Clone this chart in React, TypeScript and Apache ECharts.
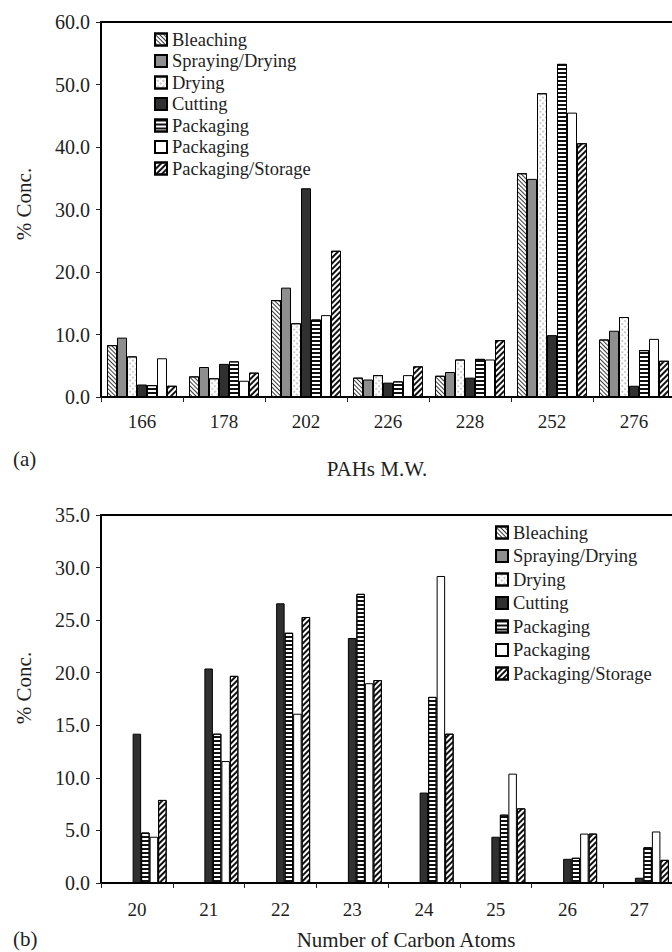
import React, { useEffect, useRef } from "react";
import * as echarts from "echarts";

const pahCategories = ["166", "178", "202", "226", "228", "252", "276"];
const carbonCategories = ["20", "21", "22", "23", "24", "25", "26", "27"];

const seriesKeys = ["bleaching", "spraying", "drying", "cutting", "packagingA", "packagingB", "storage"];
const seriesLabels = ["Bleaching", "Spraying/Drying", "Drying", "Cutting", "Packaging", "Packaging", "Packaging/Storage"];

// Panel (a): % concentration by PAH molecular weight
const pahBleaching = [8.3, 3.3, 15.5, 3.1, 3.4, 35.8, 9.2];
const pahSpraying = [9.5, 4.8, 17.5, 2.8, 4.0, 34.9, 10.6];
const pahDrying = [6.5, 3.0, 11.8, 3.5, 6.0, 48.6, 12.8];
const pahCutting = [2.0, 5.3, 33.4, 2.3, 3.1, 9.9, 1.8];
const pahPackagingA = [1.9, 5.7, 12.4, 2.5, 6.1, 53.3, 7.5];
const pahPackagingB = [6.2, 2.6, 13.1, 3.5, 6.0, 45.5, 9.3];
const pahStorage = [1.8, 3.9, 23.4, 4.9, 9.1, 40.6, 5.8];

// Panel (b): % concentration by number of carbon atoms
const carbonBleaching = [null, null, null, null, null, null, null, null];
const carbonSpraying = [null, null, null, null, null, null, null, null];
const carbonDrying = [null, null, null, null, null, null, null, null];
const carbonCutting = [14.2, 20.4, 26.6, 23.3, 8.6, 4.4, 2.3, 0.5];
const carbonPackagingA = [4.8, 14.2, 23.8, 27.5, 17.7, 6.5, 2.4, 3.4];
const carbonPackagingB = [4.4, 11.6, 16.1, 19.0, 29.2, 10.4, 4.7, 4.9];
const carbonStorage = [7.9, 19.7, 25.3, 19.3, 14.2, 7.1, 4.7, 2.2];

const pahTicks = { min: 0, max: 60, interval: 10 };
const carbonTicks = { min: 0, max: 35, interval: 5 };

const FONT = '"Liberation Serif", "Times New Roman", serif';
const TXT = "#1e1e1e";

const styles: any[] = [
  {
    color: "#ffffff",
    decal: { symbol: "rect", symbolSize: 1, color: "#3a3a3a", backgroundColor: "#ffffff", dashArrayX: [1, 0], dashArrayY: [1, 1.4], rotation: Math.PI / 4 },
  },
  { color: "#8e8e8e" },
  {
    color: "#ffffff",
    decal: { symbol: "circle", symbolSize: 0.7, color: "#7a7a7a", backgroundColor: "#ffffff", dashArrayX: [1.5, 1.5], dashArrayY: [1.5, 1.5], rotation: Math.PI / 4 },
  },
  { color: "#303030" },
  {
    color: "#ffffff",
    decal: { symbol: "rect", symbolSize: 1, color: "#111111", backgroundColor: "#ffffff", dashArrayX: [1, 0], dashArrayY: [1.4, 1.6], rotation: 0 },
  },
  { color: "#ffffff" },
  {
    color: "#ffffff",
    decal: { symbol: "rect", symbolSize: 1, color: "#111111", backgroundColor: "#ffffff", dashArrayX: [1, 0], dashArrayY: [2, 2], rotation: -Math.PI / 4 },
  },
];

export default function App() {
  const ref = useRef<HTMLDivElement>(null);

  useEffect(() => {
    if (!ref.current) return;
    const chart = echarts.init(ref.current, undefined, { renderer: "svg" });

    const pahData = [pahBleaching, pahSpraying, pahDrying, pahCutting, pahPackagingA, pahPackagingB, pahStorage];
    const carbonData = [carbonBleaching, carbonSpraying, carbonDrying, carbonCutting, carbonPackagingA, carbonPackagingB, carbonStorage];

    const mkSeries = (data: any[][], gridIdx: number, barWidth: number) =>
      seriesKeys.map((key, i) => ({
        type: "bar",
        name: key,
        xAxisIndex: gridIdx,
        yAxisIndex: gridIdx,
        data: data[i],
        barWidth,
        barGap: "0%",
        itemStyle: {
          color: styles[i].color,
          decal: styles[i].decal,
          borderColor: "#000",
          borderWidth: 1,
        },
        emphasis: { disabled: true },
      }));

    const xAxisCommon = (cats: string[], gridIndex: number, margin: number) => ({
      type: "category",
      gridIndex,
      data: cats,
      boundaryGap: true,
      axisLine: { show: true, lineStyle: { color: "#000", width: 2 } },
      axisTick: { show: true, alignWithLabel: false, inside: false, length: 5, lineStyle: { color: "#222", width: 1 } },
      axisLabel: { fontFamily: FONT, fontSize: 19, color: TXT, margin },
      splitLine: { show: false },
    });

    const yAxisCommon = (t: any, gridIndex: number) => ({
      type: "value",
      gridIndex,
      min: t.min,
      max: t.max,
      interval: t.interval,
      axisLine: { show: true, lineStyle: { color: "#000", width: 2 } },
      axisTick: { show: true, inside: false, length: 5, lineStyle: { color: "#222", width: 1 } },
      axisLabel: { fontFamily: FONT, fontSize: 20, color: TXT, margin: 11, formatter: (v: number) => v.toFixed(1) },
      splitLine: { show: false },
    });

    const legendCommon = {
      orient: "vertical",
      icon: "rect",
      itemWidth: 12,
      itemHeight: 12,
      padding: 0,
      selectedMode: false,
      data: seriesKeys,
      formatter: (name: string) => seriesLabels[seriesKeys.indexOf(name)],
      textStyle: { fontFamily: FONT, fontSize: 18.5, color: TXT },
    };

    const textEl = (text: string, x: number, y: number, size: number, rotation = 0, align = "center") => ({
      type: "text",
      x,
      y,
      rotation,
      silent: true,
      style: {
        text,
        font: `${size}px ${FONT}`,
        fill: TXT,
        align,
        textAlign: align,
        verticalAlign: "middle",
        textVerticalAlign: "middle",
      },
    });

    chart.setOption({
      animation: false,
      backgroundColor: "#ffffff",
      grid: [
        { left: 101, right: 5, top: 22, height: 375, show: true, borderColor: "#000", borderWidth: 2, containLabel: false },
        { left: 101, right: 5, top: 515, height: 368, show: true, borderColor: "#000", borderWidth: 2, containLabel: false },
      ],
      xAxis: [xAxisCommon(pahCategories, 0, 15), xAxisCommon(carbonCategories, 1, 17)],
      yAxis: [yAxisCommon(pahTicks, 0), yAxisCommon(carbonTicks, 1)],
      legend: [
        { ...legendCommon, left: 154, top: 30, itemGap: 2.5 },
        { ...legendCommon, left: 495, top: 523, itemGap: 4.5 },
      ],
      series: [...mkSeries(pahData, 0, 10), ...mkSeries(carbonData, 1, 8.5)],
      graphic: [
        textEl("% Conc.", 24, 204, 21, Math.PI / 2),
        textEl("% Conc.", 24, 688, 21, Math.PI / 2),
        textEl("(a)", 13, 459, 21, 0, "left"),
        textEl("(b)", 13, 939, 21, 0, "left"),
        textEl("PAHs M.W.", 377, 469, 21),
        textEl("Number of Carbon Atoms", 406, 940, 21),
      ],
    });

    return () => chart.dispose();
  }, []);

  return (
    <div style={{ position: "absolute", left: 0, top: 0, width: 672, height: 952, overflow: "hidden", background: "#fff" }}>
      <div ref={ref} style={{ width: 680, height: 952 }} />
    </div>
  );
}
